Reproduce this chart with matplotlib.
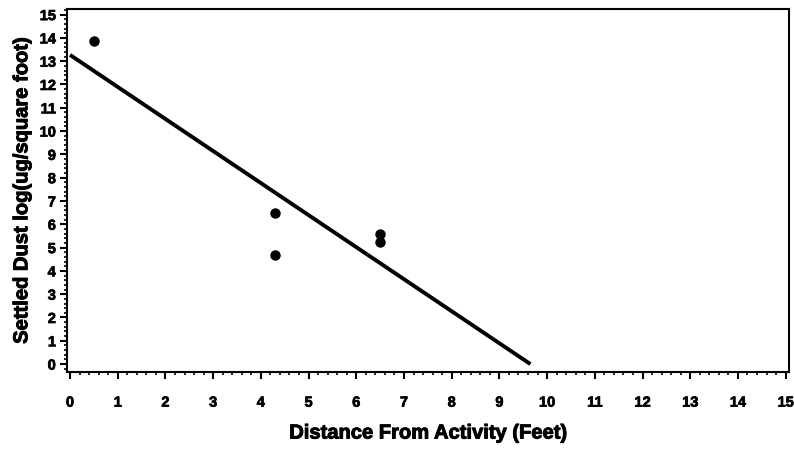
import matplotlib.pyplot as plt
import matplotlib.patheffects as pe
from matplotlib.ticker import MultipleLocator

# distance (ft) vs settled dust log(ug/sq ft)
distance = [0.5, 4.3, 4.3, 6.5, 6.5]
dust = [13.85, 6.5, 4.7, 5.6, 5.25]

# fitted line end points
fit_x = [0.0, 9.65]
fit_y = [13.27, 0.0]

plt.rcParams['font.family'] = ['Liberation Sans', 'DejaVu Sans']
plt.rcParams['font.weight'] = 'bold'

heavy = [pe.withStroke(linewidth=0.7, foreground='black')]

fig = plt.figure(figsize=(7.94, 4.5), dpi=100)
ax = fig.add_axes([0.0844, 0.1733, 0.9093, 0.8067])

ax.plot(fit_x, fit_y, color='black', lw=2.8, solid_capstyle='butt')
ax.plot(distance, dust, 'o', color='black', ms=6.5)

ax.set_xlim(-0.063, 15.07)
ax.set_ylim(-0.34, 15.24)
ax.xaxis.set_major_locator(MultipleLocator(1))
ax.xaxis.set_minor_locator(MultipleLocator(0.2))
ax.yaxis.set_major_locator(MultipleLocator(1))
ax.yaxis.set_minor_locator(MultipleLocator(0.2))

for s in ax.spines.values():
    s.set_linewidth(1.5)

ax.tick_params(axis='both', which='major', length=5, width=1.5, labelsize=10.5)
ax.tick_params(axis='both', which='minor', length=2.5, width=1.2)
ax.tick_params(axis='x', which='major', pad=12)
ax.tick_params(axis='y', which='major', pad=3)
for lbl in ax.get_xticklabels() + ax.get_yticklabels():
    lbl.set_path_effects([pe.withStroke(linewidth=0.5, foreground='black')])

ax.set_xlabel('Distance From Activity (Feet)', fontsize=14.5, fontweight='bold',
              labelpad=10, path_effects=heavy)
ax.set_ylabel('Settled Dust log(ug/square foot)', fontsize=14.5, fontweight='bold',
              labelpad=6, path_effects=heavy)

fig.savefig('out.png', dpi=100)
